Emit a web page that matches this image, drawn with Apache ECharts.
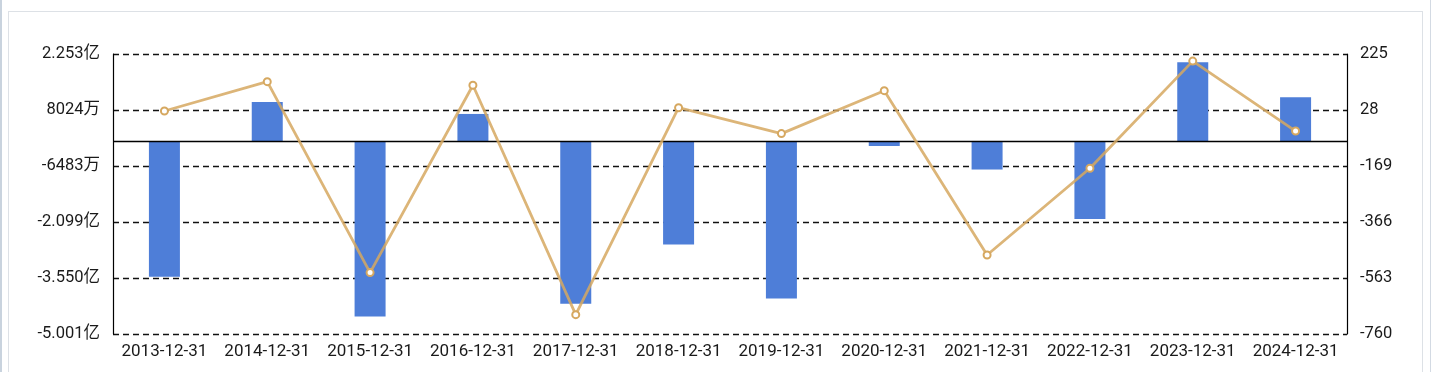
<!DOCTYPE html>
<html><head><meta charset="utf-8">
<script src="https://cdn.jsdelivr.net/npm/echarts@6/dist/echarts.min.js"></script>
<style>
html,body{margin:0;padding:0;background:#fff;width:1440px;height:372px;overflow:hidden}
#strip{position:absolute;left:0;top:0;width:2px;height:372px;background:#c9d3de}
#card{position:absolute;left:8px;top:11px;width:1415px;height:400px;border:1px solid #dde1e6;box-sizing:border-box}
#rline{position:absolute;left:1430px;top:0;width:1px;height:372px;background:#d3dae3}
#chart{position:absolute;left:0;top:0;width:1440px;height:372px}
</style></head><body>
<div id="strip"></div><div id="card"></div><div id="rline"></div>
<div id="chart"></div>
<script>
const categories = ['2013-12-31','2014-12-31','2015-12-31','2016-12-31','2017-12-31','2018-12-31','2019-12-31','2020-12-31','2021-12-31','2022-12-31','2023-12-31','2024-12-31'];
// bar values in 亿
const barValues = [-3.515, 1.010, -4.55, 0.70, -4.22, -2.68, -4.08, -0.13, -0.74, -2.02, 2.04, 1.13];
const lineValues = [24.5, 127.6, -544, 115, -692, 36, -55, 96, -482, -177, 200, -46];
const leftTickLabels = ['-5.001亿','-3.550亿','-2.099亿','-6483万','8024万','2.253亿'];
const leftMin = -5.001, leftMax = 2.253;
const rightTickLabels = ['-760','-563','-366','-169','28','225'];
const rightTickValues = [-760, -563, -366, -169, 28, 225];
const rightMin = -760, rightMax = 225;

const leftTickValues = leftTickLabels.map((_, i) => leftMin + i * (leftMax - leftMin) / (leftTickLabels.length - 1));
function nearestLabel(vals, labels, v) {
  let best = 0;
  for (let i = 1; i < vals.length; i++) if (Math.abs(vals[i] - v) < Math.abs(vals[best] - v)) best = i;
  return labels[best];
}
const FONT = 'Roboto, "Noto Sans CJK SC", sans-serif';
const chart = echarts.init(document.getElementById('chart'), null, {renderer: 'canvas'});
chart.setOption({
  animation: false,
  backgroundColor: 'transparent',
  grid: {left: 113, right: 93, top: 54, bottom: 38, containLabel: false},
  xAxis: {
    type: 'category', data: categories, boundaryGap: true,
    axisLine: {show: false}, axisTick: {show: false},
    axisLabel: {fontSize: 17, color: '#1a1a1a', margin: 9, fontFamily: FONT, interval: 0}
  },
  yAxis: [{
    type: 'value', position: 'left', min: leftMin, max: leftMax,
    axisLine: {show: true, lineStyle: {color: '#000', width: 1.2}},
    axisTick: {show: false, customValues: leftTickValues},
    axisLabel: {customValues: leftTickValues, fontSize: 16.5, color: '#1a1a1a', margin: 13, fontFamily: FONT,
      formatter: v => nearestLabel(leftTickValues, leftTickLabels, v)},
    splitLine: {show: true, lineStyle: {color: '#111', type: [6, 4], width: 1.3}}
  }, {
    type: 'value', position: 'right', min: rightMin, max: rightMax,
    axisLine: {show: true, lineStyle: {color: '#000', width: 1.2}},
    axisTick: {show: false, customValues: rightTickValues},
    axisLabel: {customValues: rightTickValues, fontSize: 16.5, color: '#1a1a1a', margin: 13, fontFamily: FONT,
      formatter: v => nearestLabel(rightTickValues, rightTickLabels, v)},
    splitLine: {show: false}
  }],
  series: [{
    type: 'bar', data: barValues, yAxisIndex: 0, barWidth: 31,
    itemStyle: {color: '#4e7ed8'},
    markLine: {silent: true, symbol: ['none', 'none'], label: {show: false},
      lineStyle: {color: '#000', type: 'solid', width: 1.3},
      data: [{yAxis: 0}]}
  }, {
    type: 'line', data: lineValues, yAxisIndex: 1, z: 5,
    symbol: 'emptyCircle', symbolSize: 7,
    lineStyle: {color: '#d6a860', width: 2.8, opacity: 0.85},
    itemStyle: {color: '#d6a860', borderWidth: 1.5}
  }]
});
</script>
</body></html>
